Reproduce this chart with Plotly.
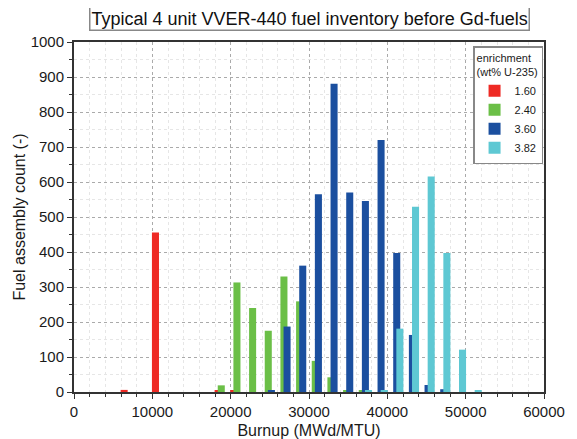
import plotly.graph_objects as go

# Histogram bins (start of each 2000 MWd/MTU bin) and counts per enrichment
red_bins = [6000, 10000, 18000, 20000]
red_counts = [6, 456, 5, 5]

green_bins = [18000, 20000, 22000, 24000, 26000, 28000, 30000, 32000, 34000, 36000]
green_counts = [19, 313, 240, 175, 330, 259, 89, 42, 3, 3]

blue_bins = [24000, 26000, 28000, 30000, 32000, 34000, 36000, 38000, 40000, 42000, 44000, 46000]
blue_counts = [5, 187, 361, 565, 881, 570, 546, 720, 397, 163, 20, 8]

cyan_bins = [36000, 38000, 40000, 42000, 44000, 46000, 48000, 50000]
cyan_counts = [5, 5, 181, 529, 616, 397, 121, 5]

series_names = ["1.60", "2.40", "3.60", "3.82"]
colors = ["#EE2A24", "#6BBF47", "#1B4F9F", "#5EC8D3"]
offsets = [-50, 350, 750, 1150]
BAR_W = 900

fig = go.Figure()
for name, xs, ys, c, off in zip(series_names,
                                [red_bins, green_bins, blue_bins, cyan_bins],
                                [red_counts, green_counts, blue_counts, cyan_counts],
                                colors, offsets):
    fig.add_trace(go.Bar(x=xs, y=ys, name=name, marker=dict(color=c, line=dict(width=0)),
                         width=BAR_W, offset=off))

FONT = "Liberation Sans, Arial"
axis_common = dict(
    showline=True, linecolor="#333333", linewidth=2, mirror=True,
    ticks="outside", ticklen=5, tickcolor="#333333", tickwidth=1.2,
    showgrid=True, gridcolor="#AAAAAA", griddash="dot", gridwidth=1,
    zeroline=False, automargin=False,
    tickfont=dict(family=FONT, size=15, color="#1a1a1a"),
)

# The page body has an 8px margin, so the figure's margins are offset accordingly
fig.update_layout(
    barmode="overlay",
    width=577, height=439,
    margin=dict(l=66, r=41, t=34, b=55),
    paper_bgcolor="white", plot_bgcolor="white",
    font=dict(family=FONT, color="#1a1a1a"),
    xaxis=dict(range=[0, 60000], dtick=10000, tickformat="d",
               title=dict(text="Burnup (MWd/MTU)", font=dict(size=16), standoff=6),
               minor=dict(dtick=2000, ticklen=3, tickcolor="#333333", showgrid=True,
                          gridcolor="#E6E6E6", griddash="dot"),
               **axis_common),
    yaxis=dict(range=[0, 1000], dtick=100,
               title=dict(text="Fuel assembly count (-)", font=dict(size=16), standoff=1),
               minor=dict(dtick=50, ticklen=3, tickcolor="#333333", showgrid=True,
                          gridcolor="#E6E6E6", griddash="dot"),
               **axis_common),
    legend=dict(
        title=dict(text="enrichment<br>(wt% U-235)", font=dict(size=11, color="#1a1a1a")),
        x=0.998, y=0.988, xanchor="right", yanchor="top",
        bgcolor="white", bordercolor="#888888", borderwidth=1.5,
        font=dict(size=11, color="#1a1a1a"),
        tracegroupgap=0, itemwidth=30,
    ),
    showlegend=True,
    annotations=[dict(
        text="Typical 4 unit VVER-440 fuel inventory before Gd-fuels",
        xref="paper", yref="paper", x=0.5, y=1.032, xanchor="center", yanchor="bottom",
        showarrow=False, font=dict(size=18, color="#111111", family=FONT),
        bordercolor="#888888", borderwidth=1.5, borderpad=1, bgcolor="white",
    )],
)

fig.write_html("out.html")
